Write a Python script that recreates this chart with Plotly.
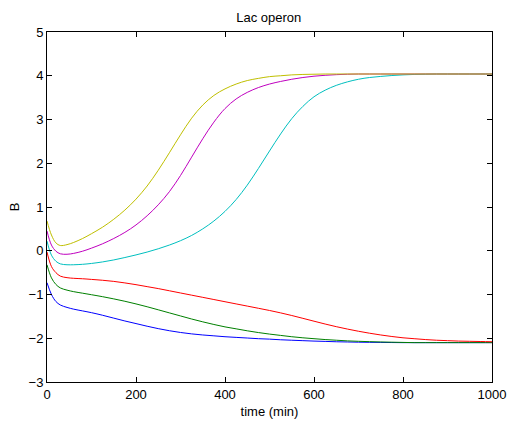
import plotly.graph_objects as go

t = [0, 10, 20, 30, 45, 60, 80, 100, 125, 150, 175, 200, 225, 250, 275, 300, 325, 350,
     375, 400, 425, 450, 475, 500, 525, 550, 575, 600, 625, 650, 675, 700, 725, 750,
     775, 800, 825, 850, 875, 900, 925, 950, 975, 1000]

blue = [-0.73, -1.0, -1.16, -1.24, -1.295, -1.335, -1.375, -1.415, -1.475, -1.54, -1.605,
        -1.665, -1.725, -1.78, -1.828, -1.868, -1.9, -1.925, -1.945, -1.965, -1.98, -1.995,
        -2.01, -2.02, -2.035, -2.045, -2.055, -2.065, -2.072, -2.08, -2.085, -2.09, -2.093,
        -2.095, -2.098, -2.1, -2.1, -2.1, -2.1, -2.1, -2.1, -2.1, -2.1, -2.1]
green = [-0.32, -0.62, -0.77, -0.85, -0.9, -0.935, -0.97, -1.005, -1.05, -1.1, -1.155,
         -1.215, -1.28, -1.35, -1.42, -1.49, -1.56, -1.625, -1.685, -1.74, -1.785, -1.83,
         -1.87, -1.905, -1.935, -1.965, -1.99, -2.01, -2.03, -2.045, -2.06, -2.07, -2.078,
         -2.085, -2.09, -2.095, -2.1, -2.1, -2.1, -2.1, -2.1, -2.1, -2.1, -2.1]
red = [-0.03, -0.36, -0.5, -0.58, -0.615, -0.63, -0.64, -0.655, -0.675, -0.70, -0.735,
       -0.775, -0.82, -0.865, -0.915, -0.965, -1.015, -1.065, -1.115, -1.165, -1.215,
       -1.265, -1.315, -1.365, -1.42, -1.48, -1.545, -1.61, -1.675, -1.735, -1.79, -1.84,
       -1.885, -1.925, -1.96, -1.99, -2.01, -2.03, -2.045, -2.055, -2.065, -2.07, -2.075,
       -2.08]
cyan = [0.22, -0.1, -0.24, -0.3, -0.32, -0.32, -0.31, -0.29, -0.255, -0.21, -0.155, -0.095,
        -0.03, 0.045, 0.13, 0.23, 0.35, 0.5, 0.68, 0.9, 1.17, 1.5, 1.88, 2.28, 2.67, 3.02,
        3.3, 3.52, 3.67, 3.78, 3.86, 3.92, 3.96, 3.985, 4.005, 4.02, 4.03, 4.035, 4.04,
        4.04, 4.04, 4.04, 4.04, 4.04]
magenta = [0.45, 0.13, -0.01, -0.07, -0.08, -0.06, -0.01, 0.06, 0.16, 0.28, 0.42, 0.59,
           0.8, 1.05, 1.35, 1.72, 2.14, 2.56, 2.94, 3.25, 3.47, 3.62, 3.73, 3.81, 3.87,
           3.92, 3.96, 3.99, 4.01, 4.025, 4.035, 4.04, 4.04, 4.04, 4.04, 4.04, 4.04, 4.04,
           4.04, 4.04, 4.04, 4.04, 4.04, 4.04]
yellow = [0.68, 0.36, 0.18, 0.12, 0.14, 0.19, 0.28, 0.39, 0.54, 0.72, 0.93, 1.18, 1.48,
          1.84, 2.24, 2.65, 3.03, 3.33, 3.55, 3.7, 3.81, 3.89, 3.94, 3.98, 4.0, 4.02, 4.03,
          4.035, 4.04, 4.04, 4.04, 4.04, 4.04, 4.04, 4.04, 4.04, 4.04, 4.04, 4.04, 4.04,
          4.04, 4.04, 4.04, 4.04]

series = [
    (blue, "rgb(0,0,255)"),
    (green, "rgb(0,128,0)"),
    (red, "rgb(255,0,0)"),
    (cyan, "rgb(0,191,191)"),
    (magenta, "rgb(191,0,191)"),
    (yellow, "rgb(191,191,0)"),
]

x_ticks = [0, 200, 400, 600, 800, 1000]
y_ticks = [-3, -2, -1, 0, 1, 2, 3, 4, 5]
y_tick_text = ["\u22123", "\u22122", "\u22121", "0", "1", "2", "3", "4", "5"]

fig = go.Figure()
for vals, col in series:
    fig.add_trace(go.Scatter(x=t, y=vals, mode="lines",
                             line=dict(color=col, width=1, shape="spline", smoothing=1.0),
                             showlegend=False, hoverinfo="skip"))

FAM = "Liberation Sans, Arial, sans-serif"
font = dict(family=FAM, size=13, color="black")

fig.update_layout(
    width=510, height=424,
    margin=dict(l=47, r=18, t=32, b=42, autoexpand=False),
    paper_bgcolor="white", plot_bgcolor="white",
    font=font,
    title=dict(text="Lac operon", x=0.527, xanchor="center", y=0.958, yanchor="middle",
               yref="container", font=dict(family=FAM, size=13, color="black")),
    xaxis=dict(range=[0, 1000], tickvals=x_ticks, ticks="inside", ticklen=5,
               tickcolor="black", showline=True, linecolor="black", linewidth=1,
               mirror="ticks", showgrid=False, zeroline=False, automargin=False,
               title=dict(text="time (min)", standoff=6, font=dict(family=FAM, size=13))),
    yaxis=dict(range=[-3, 5], tickvals=y_ticks, ticktext=y_tick_text, ticks="inside",
               ticklen=5, tickcolor="black", showline=True, linecolor="black",
               linewidth=1, mirror="ticks", showgrid=False, zeroline=False, automargin=False,
               title=dict(text="B", standoff=6, font=dict(family=FAM, size=13))),
)

fig.write_html("out.html",
               config={"displayModeBar": False, "staticPlot": True},
               post_script="document.body.style.margin='0';document.body.style.overflow='hidden';")
